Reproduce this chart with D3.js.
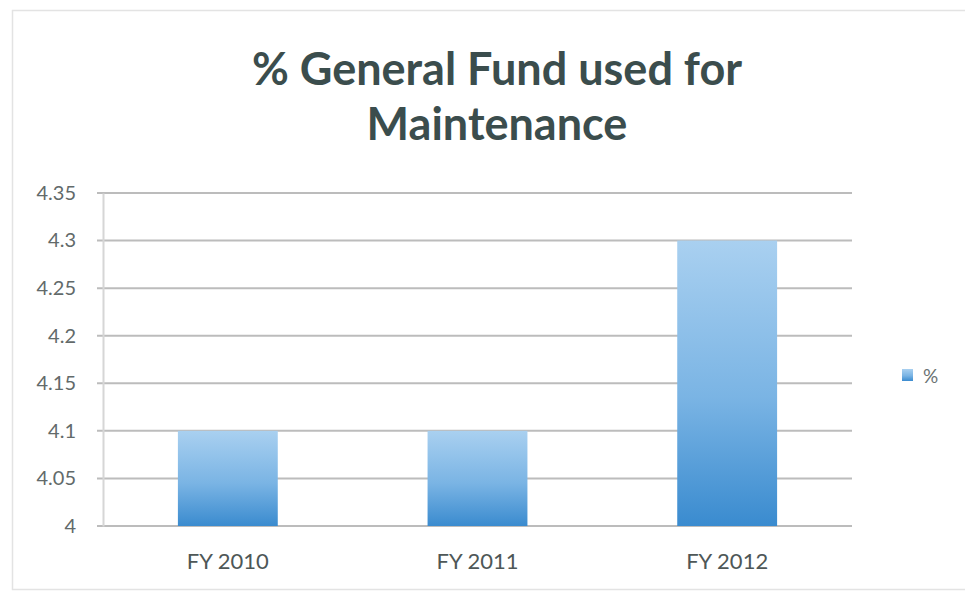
<!DOCTYPE html>
<html>
<head>
<meta charset="utf-8">
<script src="https://cdn.jsdelivr.net/npm/d3@7"></script>
<style>
  html, body { margin: 0; padding: 0; background: #ffffff; }
  svg { display: block; }
</style>
</head>
<body>
<svg id="chart" width="965" height="593"></svg>
<script>
// Chart data
const categories = ["FY 2010", "FY 2011", "FY 2012"];
const values = [4.1, 4.1, 4.3];
const yTicks = [4, 4.05, 4.1, 4.15, 4.2, 4.25, 4.3, 4.35];
const titleLines = ["% General Fund used for", "Maintenance"];
const seriesName = "%";

const svg = d3.select("#chart");
const W = 965, H = 593;
const margin = { left: 103, right: 113, top: 193, bottom: 67 };
const plotW = W - margin.left - margin.right;
const plotH = H - margin.top - margin.bottom;
const font = "Lato, 'Open Sans', sans-serif";

// Bar fill: light at top, deeper blue at the base
const defs = svg.append("defs");
const grad = defs.append("linearGradient")
  .attr("id", "barFill").attr("x1", 0).attr("y1", 0).attr("x2", 0).attr("y2", 1);
grad.append("stop").attr("offset", "0%").attr("stop-color", "#a9d0f0");
grad.append("stop").attr("offset", "55%").attr("stop-color", "#7ab4e4");
grad.append("stop").attr("offset", "100%").attr("stop-color", "#3a8bcf");

// Chart frame
svg.append("rect")
  .attr("x", 12.5).attr("y", 10.5)
  .attr("width", W - 10).attr("height", 579)
  .attr("fill", "none").attr("stroke", "#e3e3e3").attr("stroke-width", 1.5);

// Title
svg.append("g").selectAll("text")
  .data(titleLines)
  .join("text")
  .attr("x", 497)
  .attr("y", (d, i) => 85 + i * 55)
  .attr("text-anchor", "middle")
  .attr("font-family", font)
  .attr("font-weight", 700)
  .attr("font-size", 45)
  .attr("fill", "#3b4d4d")
  .text(d => d);

const x = d3.scaleBand()
  .domain(categories)
  .range([margin.left, margin.left + plotW])
  .paddingInner(0.6)
  .paddingOuter(0.3);

const y = d3.scaleLinear()
  .domain([4, 4.35])
  .range([margin.top + plotH, margin.top]);

// Horizontal gridlines
svg.append("g")
  .selectAll("line")
  .data(yTicks)
  .join("line")
  .attr("x1", margin.left - 6)
  .attr("x2", margin.left + plotW)
  .attr("y1", d => y(d))
  .attr("y2", d => y(d))
  .attr("stroke", "#bcbcbc")
  .attr("stroke-width", 2);

// Value axis
const yAxis = svg.append("g")
  .attr("transform", `translate(${margin.left},0)`)
  .call(d3.axisLeft(y).tickValues(yTicks).tickSize(0).tickPadding(27)
    .tickFormat(d => String(+d.toFixed(2))));
yAxis.select(".domain").attr("stroke", "#d6d6d6").attr("stroke-width", 2);
yAxis.selectAll("text")
  .attr("font-family", font)
  .attr("font-size", 20)
  .attr("fill", "#626a6a");

// Bars
svg.append("g")
  .selectAll("rect")
  .data(values)
  .join("rect")
  .attr("x", (d, i) => x(categories[i]))
  .attr("width", x.bandwidth())
  .attr("y", d => y(d))
  .attr("height", d => y(4) - y(d))
  .attr("fill", "url(#barFill)");

// Category axis
const xAxis = svg.append("g")
  .attr("transform", `translate(0,${margin.top + plotH})`)
  .call(d3.axisBottom(x).tickSize(0).tickPadding(27));
xAxis.select(".domain").remove();
xAxis.selectAll("text")
  .attr("font-family", font)
  .attr("font-size", 22)
  .attr("fill", "#4e5757");

// Legend
const legend = svg.append("g").attr("transform", "translate(902,369)");
legend.append("rect")
  .attr("width", 11).attr("height", 12)
  .attr("fill", "url(#barFill)");
legend.append("text")
  .attr("x", 21).attr("y", 14)
  .attr("font-family", font)
  .attr("font-size", 19)
  .attr("fill", "#6a7272")
  .text(seriesName);
</script>
</body>
</html>
